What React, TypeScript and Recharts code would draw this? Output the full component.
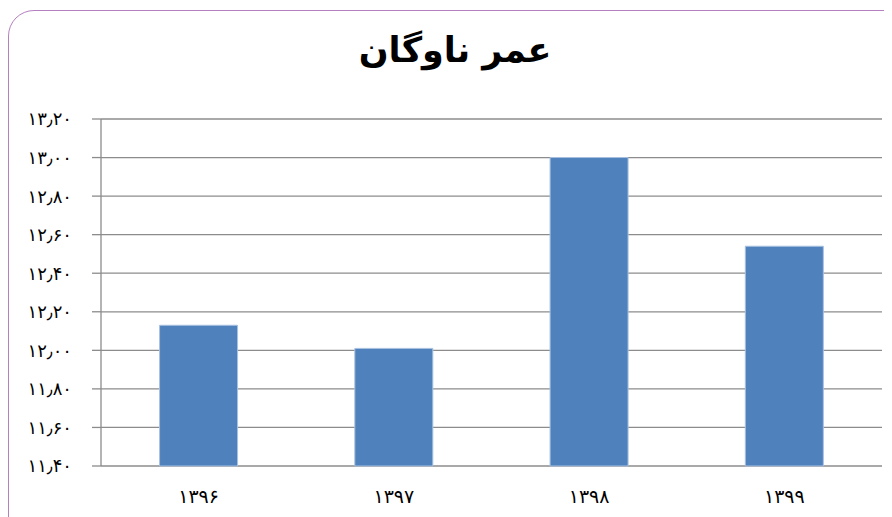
import React from "react";
import { BarChart, Bar, XAxis, YAxis, CartesianGrid } from "recharts";

const categories = ["۱۳۹۶", "۱۳۹۷", "۱۳۹۸", "۱۳۹۹"];
const values = [12.13, 12.01, 13.0, 12.54];
const yTicks = [11.4, 11.6, 11.8, 12.0, 12.2, 12.4, 12.6, 12.8, 13.0, 13.2];
const boundaryTicks = [0, 1, 2, 3, 4];
const title = "عمر ناوگان";

const data = categories.map((c, i) => ({ name: c, value: values[i] }));

const faDigits = "۰۱۲۳۴۵۶۷۸۹";
const toFa = (v: number) =>
  v
    .toFixed(2)
    .split("")
    .map((ch) => (ch === "." ? "٫" : /[0-9]/.test(ch) ? faDigits[Number(ch)] : ch))
    .join("");

export default function App() {
  return (
    <div style={{ width: 884, height: 509, overflow: "hidden", position: "relative" }}>
      <div
        style={{
          position: "absolute",
          left: 0,
          top: 2,
          width: 930,
          height: 560,
          border: "1px solid #b580bf",
          borderRadius: 26,
          boxSizing: "border-box",
        }}
      />
      <div
        style={{
          position: "absolute",
          left: 0,
          top: 22,
          width: 894,
          textAlign: "center",
          fontFamily: "DejaVu Sans",
          fontWeight: "bold",
          fontSize: 35,
          color: "#000",
          direction: "rtl",
        }}
      >
        {title}
      </div>
      <BarChart
        width={884}
        height={509}
        data={data}
        margin={{ top: 111, right: 10, bottom: 11, left: 0 }}
        barCategoryGap="30%"
      >
        <CartesianGrid horizontal={true} vertical={false} stroke="#8c8c8c" strokeWidth={1.3} />
        <XAxis
          dataKey="name"
          xAxisId="cat"
          axisLine={false}
          tickLine={false}
          height={40}
          tick={{ fontFamily: "DejaVu Sans", fontSize: 19, fill: "#000" }}
          dy={16}
        />
        <XAxis
          xAxisId="b"
          type="number"
          domain={[0, 4]}
          ticks={boundaryTicks}
          height={0}
          tick={false}
          tickSize={9}
          axisLine={{ stroke: "#8c8c8c", strokeWidth: 1.3 }}
          tickLine={{ stroke: "#8c8c8c", strokeWidth: 1.3 }}
          allowDataOverflow
        />
        <YAxis
          domain={[11.4, 13.2]}
          ticks={yTicks}
          width={93}
          tickSize={9}
          tickMargin={20}
          tickFormatter={toFa}
          axisLine={{ stroke: "#8c8c8c", strokeWidth: 1.3 }}
          tickLine={{ stroke: "#8c8c8c", strokeWidth: 1.3 }}
          tick={{ fontFamily: "DejaVu Sans", fontSize: 18, fill: "#000" }}
          interval={0}
        />
        <Bar
          dataKey="value"
          xAxisId="cat"
          fill="#4f81bd"
          stroke="#a9c1e0"
          strokeWidth={1}
          isAnimationActive={false}
        />
      </BarChart>
    </div>
  );
}
